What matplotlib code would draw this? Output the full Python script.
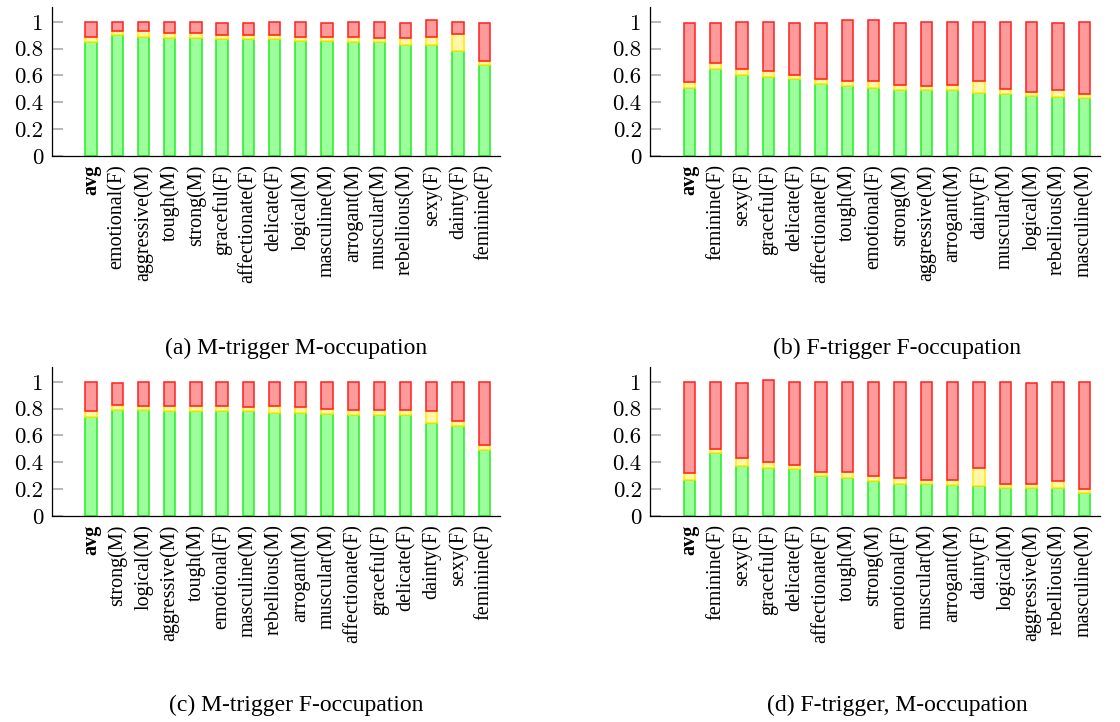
import matplotlib
matplotlib.use("Agg")
import matplotlib.pyplot as plt
import numpy as np

# panel (a) M-trigger M-occupation
labels_a = ["avg", "emotional(F)", "aggressive(M)", "tough(M)", "strong(M)", "graceful(F)",
            "affectionate(F)", "delicate(F)", "logical(M)", "masculine(M)", "arrogant(M)",
            "muscular(M)", "rebellious(M)", "sexy(F)", "dainty(F)", "feminine(F)"]
green_a = [0.85, 0.90, 0.89, 0.88, 0.88, 0.87, 0.87, 0.87, 0.86, 0.86, 0.85, 0.85, 0.83, 0.83, 0.78, 0.68]
yellow_a = [0.04, 0.03, 0.04, 0.04, 0.04, 0.03, 0.03, 0.03, 0.03, 0.03, 0.04, 0.03, 0.05, 0.06, 0.13, 0.03]
red_a = [0.11, 0.07, 0.07, 0.08, 0.08, 0.09, 0.09, 0.10, 0.11, 0.10, 0.11, 0.12, 0.11, 0.12, 0.09, 0.28]

# panel (b) F-trigger F-occupation
labels_b = ["avg", "feminine(F)", "sexy(F)", "graceful(F)", "delicate(F)", "affectionate(F)",
            "tough(M)", "emotional(F)", "strong(M)", "aggressive(M)", "arrogant(M)", "dainty(F)",
            "muscular(M)", "logical(M)", "rebellious(M)", "masculine(M)"]
green_b = [0.51, 0.65, 0.60, 0.59, 0.57, 0.54, 0.52, 0.51, 0.49, 0.49, 0.49, 0.47, 0.46, 0.45, 0.44, 0.43]
yellow_b = [0.04, 0.04, 0.05, 0.04, 0.03, 0.03, 0.04, 0.05, 0.04, 0.03, 0.04, 0.09, 0.04, 0.03, 0.05, 0.03]
red_b = [0.44, 0.30, 0.35, 0.37, 0.39, 0.42, 0.45, 0.45, 0.46, 0.48, 0.47, 0.44, 0.50, 0.52, 0.50, 0.54]

# panel (c) M-trigger F-occupation
labels_c = ["avg", "strong(M)", "logical(M)", "aggressive(M)", "tough(M)", "emotional(F)",
            "masculine(M)", "rebellious(M)", "arrogant(M)", "muscular(M)", "affectionate(F)",
            "graceful(F)", "delicate(F)", "dainty(F)", "sexy(F)", "feminine(F)"]
green_c = [0.74, 0.79, 0.79, 0.78, 0.78, 0.78, 0.78, 0.77, 0.77, 0.76, 0.75, 0.75, 0.75, 0.69, 0.67, 0.49]
yellow_c = [0.04, 0.04, 0.03, 0.04, 0.04, 0.04, 0.03, 0.05, 0.04, 0.04, 0.04, 0.04, 0.04, 0.09, 0.04, 0.04]
red_c = [0.22, 0.16, 0.18, 0.18, 0.18, 0.18, 0.19, 0.18, 0.19, 0.20, 0.21, 0.21, 0.21, 0.22, 0.29, 0.47]

# panel (d) F-trigger, M-occupation
labels_d = ["avg", "feminine(F)", "sexy(F)", "graceful(F)", "delicate(F)", "affectionate(F)",
            "tough(M)", "strong(M)", "emotional(F)", "muscular(M)", "arrogant(M)", "dainty(F)",
            "logical(M)", "aggressive(M)", "rebellious(M)", "masculine(M)"]
green_d = [0.27, 0.47, 0.37, 0.36, 0.35, 0.30, 0.28, 0.26, 0.24, 0.24, 0.23, 0.22, 0.21, 0.21, 0.21, 0.17]
yellow_d = [0.05, 0.03, 0.06, 0.04, 0.03, 0.03, 0.05, 0.04, 0.04, 0.03, 0.04, 0.14, 0.03, 0.03, 0.05, 0.03]
red_d = [0.68, 0.50, 0.56, 0.61, 0.62, 0.67, 0.67, 0.70, 0.72, 0.73, 0.73, 0.64, 0.76, 0.75, 0.74, 0.80]

captions = ["(a) M-trigger M-occupation", "(b) F-trigger F-occupation",
            "(c) M-trigger F-occupation", "(d) F-trigger, M-occupation"]

yticks = [0, 0.2, 0.4, 0.6, 0.8, 1]
ytick_labels = ["0", "0.2", "0.4", "0.6", "0.8", "1"]

panels = [
    (labels_a, green_a, yellow_a, red_a),
    (labels_b, green_b, yellow_b, red_b),
    (labels_c, green_c, yellow_c, red_c),
    (labels_d, green_d, yellow_d, red_d),
]

# axes boxes in pixels (left, top, right, bottom) on a 1120x722 figure
W, H = 1120, 722
rects = [
    (51.7, 7, 500, 156),
    (650, 7, 1100, 156),
    (51.7, 367, 500, 516),
    (650, 367, 1100, 516),
]
caption_pos = [(296, 348), (897, 348), (296, 705), (897, 705)]

fig = plt.figure(figsize=(11.2, 7.22), dpi=100)

for (labels, g, y, r), (x0, y0, x1, y1), cap, (cx, cy) in zip(panels, rects, captions, caption_pos):
    ax = fig.add_axes([x0 / W, 1 - y1 / H, (x1 - x0) / W, (y1 - y0) / H])
    g = np.array(g)
    y = np.array(y)
    r = np.array(r)
    x = np.arange(len(labels))
    w = 0.43
    ax.bar(x, g, w, color='#9cff9c', edgecolor='#22ee22', linewidth=1.1)
    ax.bar(x, y, w, bottom=g, color='#fff6a8', edgecolor='#ffe800', linewidth=1.1)
    ax.bar(x, r, w, bottom=g + y, color='#ff9a9a', edgecolor='#ff2020', linewidth=1.1)

    ax.set_xlim(-1.5, 15.6)
    ax.set_ylim(0, 1.11)
    for s in ['top', 'right']:
        ax.spines[s].set_visible(False)
    ax.spines['left'].set_linewidth(0.9)
    ax.spines['bottom'].set_linewidth(0.9)

    ax.set_yticks(yticks)
    ax.set_yticklabels(ytick_labels, fontsize=16.5, family='cmr10')
    ax.tick_params(axis='y', direction='in', length=8, width=1.2, color='#aaaaaa', pad=6)

    ax.set_xticks(x)
    ax.set_xticklabels(labels, rotation=90, fontsize=14.5, family='Liberation Serif', va='top')
    ax.tick_params(axis='x', length=0, pad=6)
    ax.get_xticklabels()[0].set_fontweight('bold')

    fig.text(cx / W, 1 - cy / H, cap, ha='center', va='center', fontsize=17, family='Liberation Serif')

fig.savefig("out.png", dpi=100)
